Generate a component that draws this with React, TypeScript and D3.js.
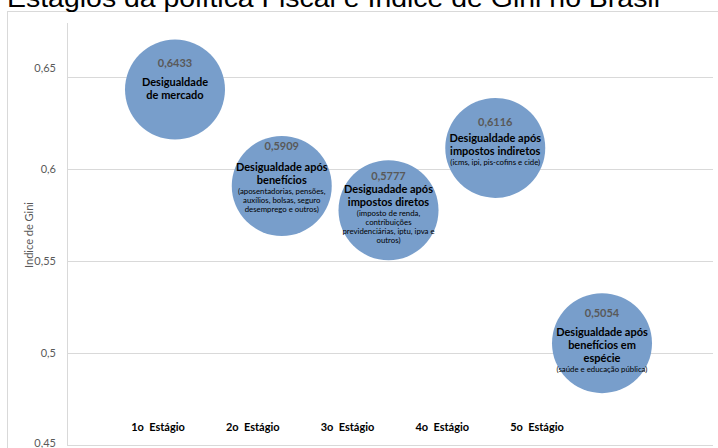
import React from "react";
import * as d3 from "d3";

const TITLE = "Estágios da política Fiscal e Índice de Gini no Brasil";
const Y_LABEL = "Indice de Gini";
const Y_TICKS = [0.45, 0.5, 0.55, 0.6, 0.65];
const STAGES = ["1o  Estágio", "2o  Estágio", "3o  Estágio", "4o  Estágio", "5o  Estágio"];
const STAGE_X = [1, 2, 3, 4, 5];
const GINI = [0.6433, 0.5909, 0.5777, 0.6116, 0.5054];
const VALUE_LABELS = ["0,6433", "0,5909", "0,5777", "0,6116", "0,5054"];
const TITLES = [
  ["Desigualdade", "de mercado"],
  ["Desigualdade após", "benefícios"],
  ["Desiguadade após", "impostos diretos"],
  ["Desigualdade após", "impostos indiretos"],
  ["Desigualdade após", "benefícios em", "espécie"],
];
const NOTES = [
  [],
  ["(aposentadorias, pensões,", "auxílios, bolsas, seguro", "desemprego e outros)"],
  ["(imposto de renda,", "contribuições", "previdenciárias, iptu, ipva e", "outros)"],
  ["(icms, ipi, pis-cofins e cide)"],
  ["(saúde e educação pública)"],
];

// layout (relative offsets of text lines from bubble centre)
const VALUE_DY = [-26, -40, -34.5, -26, -30];
const TITLE_DY0 = [-7, -19, -21, -10, -11];
const TITLE_STEP = 13;
const NOTE_GAP = 11;
const NOTE_STEP = 9;

const FONT = "Lato, 'Open Sans', sans-serif";

export default function App() {
  const W = 718, H = 448;
  const y = d3.scaleLinear().domain([0.45, 0.65]).range([445, 77.3]);
  const x = d3.scaleLinear().domain([1, 5]).range([175, 602]);
  const xl = d3.scaleLinear().domain([1, 5]).range([158, 537]);
  const r = 50;
  const plotLeft = 67, plotRight = 713, plotTop = 23;
  const fmt = (v: number) => String(+v.toFixed(2)).replace(".", ",");

  return (
    <svg width={W} height={H} style={{ position: "absolute", left: 0, top: 0, background: "#fff" }}>
      <rect x={7.5} y={11.5} width={W} height={H} fill="#fff" stroke="#d9d9d9" />
      <text x={7} y={7} fontFamily="'Liberation Sans', Arial, sans-serif" fontSize={26} textLength={653} lengthAdjust="spacingAndGlyphs" fill="#000">{TITLE}</text>
      {Y_TICKS.map((t) => (
        <g key={t}>
          <line x1={plotLeft} x2={plotRight} y1={Math.round(y(t)) + 0.5} y2={Math.round(y(t)) + 0.5} stroke="#d9d9d9" />
          <text x={56} y={y(t) + (t === 0.65 ? -9 : t === 0.45 ? -1.5 : 0)} dy="0.35em" textAnchor="end" fontFamily={FONT} fontSize={11} fill="#595959">{fmt(t)}</text>
        </g>
      ))}
      <line x1={plotLeft + 0.5} x2={plotLeft + 0.5} y1={plotTop} y2={y(0.45)} stroke="#d9d9d9" />
      <text transform={`translate(29,${235}) rotate(-90)`} textAnchor="middle" dy="0.35em" fontFamily={FONT} fontSize={11} fill="#595959">{Y_LABEL}</text>
      {GINI.map((g, i) => {
        const cx = x(STAGE_X[i]);
        const cy = y(g);
        const tl = TITLES[i];
        const noteStart = TITLE_DY0[i] + (tl.length - 1) * TITLE_STEP + NOTE_GAP;
        return (
          <g key={i}>
            <circle cx={cx} cy={cy} r={r} fill="#789ecb" />
            <text x={cx} y={cy + VALUE_DY[i]} dy="0.35em" textAnchor="middle" fontFamily={FONT} fontWeight={700} fontSize={11} fill="#595959">{VALUE_LABELS[i]}</text>
            {tl.map((s, j) => (
              <text key={"t" + j} x={cx} y={cy + TITLE_DY0[i] + j * TITLE_STEP} dy="0.35em" textAnchor="middle" fontFamily={FONT} fontWeight={700} fontSize={11} fill="#000">{s}</text>
            ))}
            {NOTES[i].map((s, j) => (
              <text key={"n" + j} x={cx} y={cy + noteStart + j * NOTE_STEP} dy="0.35em" textAnchor="middle" fontFamily={FONT} fontSize={7.8} fill="#000">{s}</text>
            ))}
          </g>
        );
      })}
      {STAGES.map((s, i) => (
        <text key={s} x={xl(STAGE_X[i])} y={427} dy="0.35em" textAnchor="middle" fontFamily={FONT} fontWeight={700} fontSize={11} fill="#000" style={{ whiteSpace: "pre" }}>{s}</text>
      ))}
    </svg>
  );
}
